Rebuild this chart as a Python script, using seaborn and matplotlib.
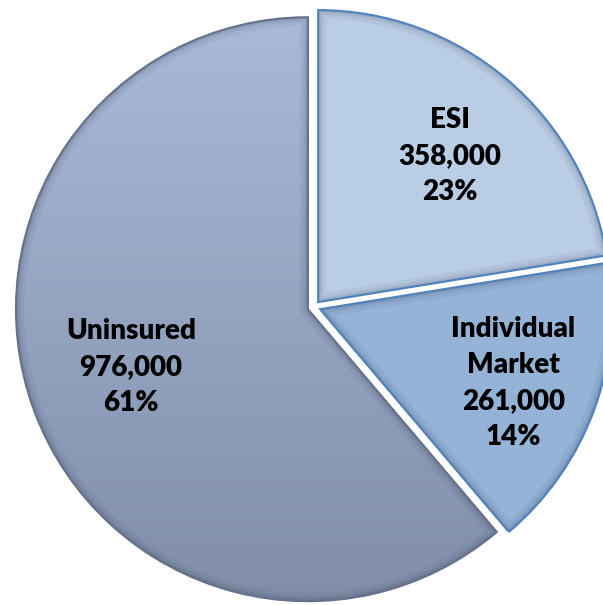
import numpy as np
import matplotlib
matplotlib.use("Agg")
import matplotlib.pyplot as plt
import matplotlib.patches as mpatches
import seaborn as sns
from matplotlib.colors import LinearSegmentedColormap

# ---- data ----
categories = ["ESI", "Individual\nMarket", "Uninsured"]
values = [358000, 261000, 976000]
percent_labels = ["23%", "14%", "61%"]

sns.set_theme(style="white")
plt.rcParams['font.family'] = ['Lato', 'DejaVu Sans']

W, H = 603, 605
fig = plt.figure(figsize=(W / 100, H / 100), dpi=100)
ax = fig.add_axes([0, 0, 1, 1])

labels = [f"{c}\n{v:,}\n{p}" for c, v, p in zip(categories, values, percent_labels)]
colors = ["#B9CDE5", "#95B3D7", "#98A8C6"]
edge_colors = ["#4F81BD", "#4F81BD", "#66728A"]

wedges, texts = ax.pie(
    values, labels=labels, colors=colors, startangle=90, counterclock=False,
    explode=[0.022] * 3, labeldistance=0.69,
    wedgeprops=dict(linewidth=0),
    textprops=dict(ha="center", va="center", multialignment="center",
                   fontsize=20, fontweight="heavy", color="black", linespacing=1.47),
)

# label placement: distance / angle offset relative to each wedge's own centre
label_dist = [0.674, 0.708, 0.637]
label_dang = [-1.7, -0.6, -2.1]
for w, t, d, da in zip(wedges, texts, label_dist, label_dang):
    th = np.deg2rad((w.theta1 + w.theta2) / 2 + da)
    cxw, cyw = w.center
    t.set_position((cxw + d * np.cos(th), cyw + d * np.sin(th)))
    t.set_zorder(6)

# Uninsured: vertical gradient fill
unins = wedges[2]
unins.set_facecolor("none")
cmap = LinearSegmentedColormap.from_list("g", ["#ABBCDC", "#7E8CA6"])
grad = np.linspace(0, 1, 256).reshape(-1, 1)
im = ax.imshow(grad, cmap=cmap, extent=(-1.2, 1.2, -1.1, 1.1), origin="upper",
               aspect="auto", zorder=1)
im.set_clip_path(unins)

# soft inner shadow + edge line for every wedge
for w, ec in zip(wedges, edge_colors):
    for lw, a in [(12, 0.05), (7, 0.07), (3.5, 0.10)]:
        s = mpatches.Wedge(w.center, w.r, w.theta1, w.theta2, facecolor="none",
                           edgecolor="#1F2A3C", linewidth=lw, alpha=a, zorder=2)
        ax.add_patch(s)
        s.set_clip_path(w)
    e = mpatches.Wedge(w.center, w.r, w.theta1, w.theta2, facecolor="none",
                       edgecolor=ec, linewidth=1.5, zorder=3)
    ax.add_patch(e)

R, cx, cy = 292, 314, 307
ax.set_xlim(-cx / R, (W - cx) / R)
ax.set_ylim(-(H - cy) / R, cy / R)
ax.set_aspect("auto")
ax.axis("off")

fig.savefig("out.png", dpi=100, facecolor="white")
